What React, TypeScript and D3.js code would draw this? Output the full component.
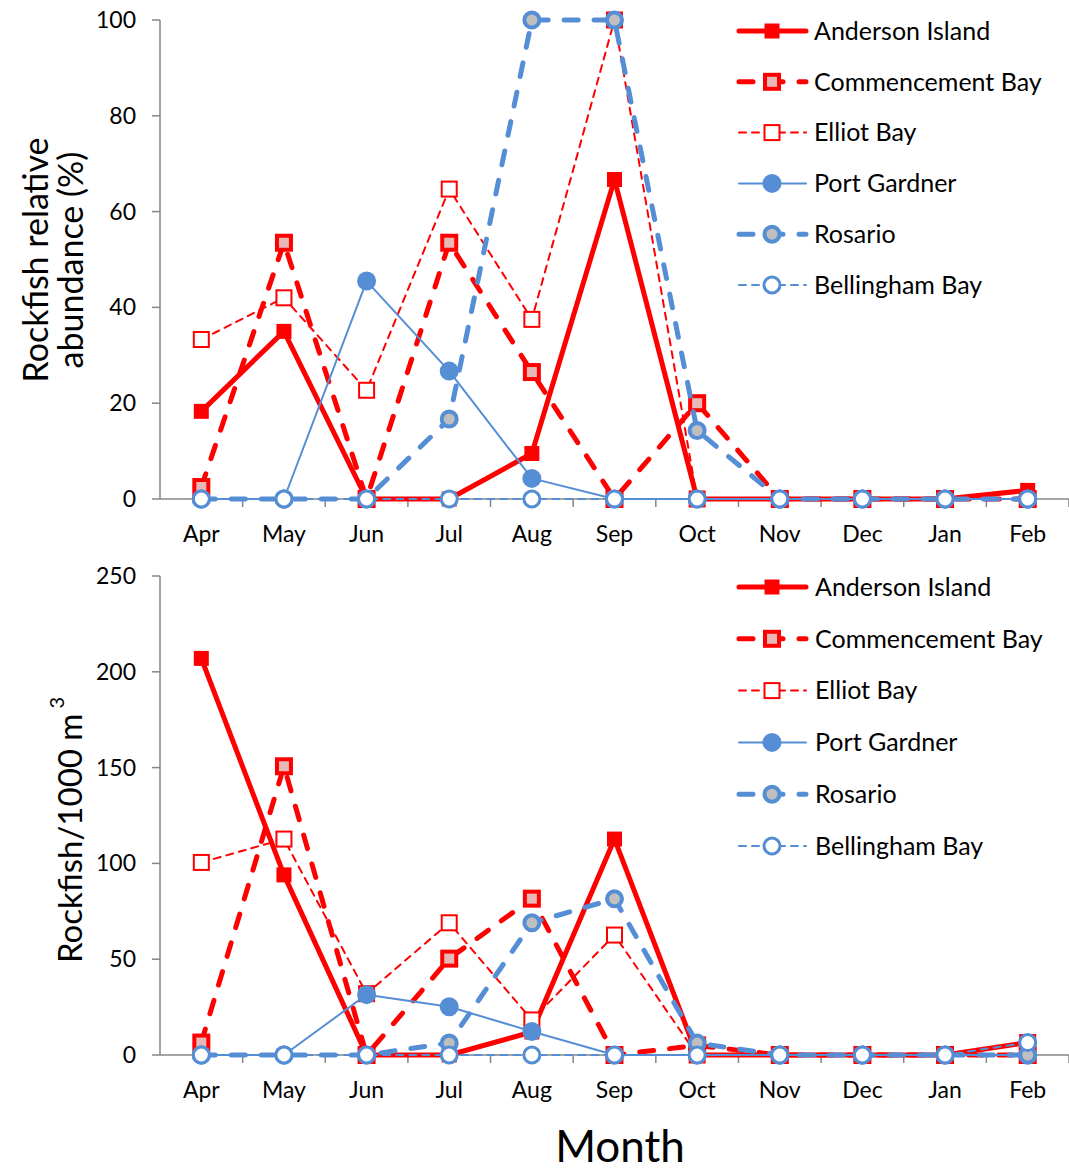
import React from 'react';
import * as d3 from 'd3';

const months = ['Apr', 'May', 'Jun', 'Jul', 'Aug', 'Sep', 'Oct', 'Nov', 'Dec', 'Jan', 'Feb'];
const seriesNames = ['Anderson Island', 'Commencement Bay', 'Elliot Bay', 'Port Gardner', 'Rosario', 'Bellingham Bay'];

// top panel: relative abundance (%)
const andersonPct = [18.3, 35, 0, 0, 9.5, 66.7, 0, 0, 0, 0, 1.8];
const commencementPct = [2.5, 53.5, 0, 53.5, 26.5, 0, 20, 0, 0, 0, 0];
const elliotPct = [33.3, 42, 22.7, 64.7, 37.5, 100, 0, 0, 0, 0, 0];
const portGardnerPct = [0, 0, 45.5, 26.7, 4.3, 0, 0, 0, 0, 0, 0];
const rosarioPct = [0, 0, 0, 16.7, 100, 100, 14.3, 0, 0, 0, 0];
const bellinghamPct = [0, 0, 0, 0, 0, 0, 0, 0, 0, 0, 0];

// bottom panel: rockfish per 1000 m3
const andersonDen = [207, 94, 0, 0, 12, 112.7, 0, 0, 0, 0, 6.5];
const commencementDen = [6.5, 150.7, 0, 50.3, 81.6, 0, 5, 0, 0, 0, 0];
const elliotDen = [100.5, 112.7, 32, 69, 18.3, 62.6, 0, 0, 0, 0, 6.5];
const portGardnerDen = [0, 0, 31.5, 25.2, 12.3, 0, 0, 0, 0, 0, 0];
const rosarioDen = [0, 0, 0, 6.3, 69, 81.5, 6.2, 0, 0, 0, 0];
const bellinghamDen = [0, 0, 0, 0, 0, 0, 0, 0, 0, 0, 6.5];

const pctTicks = [0, 20, 40, 60, 80, 100];
const denTicks = [0, 50, 100, 150, 200, 250];

const RED = '#FF0000';
const BLUE = '#558ED5';
const FONT = 'Lato, "Open Sans", sans-serif';

type Style = {
  color: string;
  width: number;
  dash: string | null;
  marker: 'square' | 'circle';
  size: number;
  fill: string;
  mstroke: number;
};

const styles: Style[] = [
  { color: RED, width: 5, dash: null, marker: 'square', size: 15, fill: RED, mstroke: 0 },
  { color: RED, width: 5, dash: '14,16', marker: 'square', size: 14, fill: '#E6B9B8', mstroke: 4 },
  { color: RED, width: 2, dash: '7,6', marker: 'square', size: 15, fill: '#FFFFFF', mstroke: 2 },
  { color: BLUE, width: 2, dash: null, marker: 'circle', size: 9.5, fill: BLUE, mstroke: 0 },
  { color: BLUE, width: 5, dash: '14,16', marker: 'circle', size: 7.5, fill: '#BFBFBF', mstroke: 4 },
  { color: BLUE, width: 2, dash: '7,6', marker: 'circle', size: 8, fill: '#FFFFFF', mstroke: 3 },
];

const x = d3.scaleBand<string>().domain(months).range([160, 1069]).padding(0);
const cx = (m: string) => (x(m) ?? 0) + x.bandwidth() / 2;

const Marker = ({ s, px, py }: { s: Style; px: number; py: number }) =>
  s.marker === 'square' ? (
    <rect x={px - s.size / 2} y={py - s.size / 2} width={s.size} height={s.size}
      fill={s.fill} stroke={s.mstroke ? s.color : 'none'} strokeWidth={s.mstroke} />
  ) : (
    <circle cx={px} cy={py} r={s.size} fill={s.fill} stroke={s.mstroke ? s.color : 'none'} strokeWidth={s.mstroke} />
  );

const Panel = ({ series, y, ticks, legendTop, legendStep, legendTextX }: {
  series: number[][];
  y: d3.ScaleLinear<number, number>;
  ticks: number[];
  legendTop: number;
  legendStep: number;
  legendTextX: number;
}) => {
  const [y0, y1] = y.range();
  const line = d3.line<number>().x((_, i) => cx(months[i])).y(v => y(v));
  return (
    <g>
      {/* y axis */}
      <line x1={160} x2={160} y1={y1} y2={y0} stroke="#868686" strokeWidth={1.5} />
      {ticks.map(t => (
        <g key={t}>
          <line x1={152} x2={160} y1={y(t)} y2={y(t)} stroke="#868686" strokeWidth={1.5} />
          <text x={136} y={y(t)} dy="0.35em" textAnchor="end" fontSize={23} fontFamily={FONT} fill="#000">{t}</text>
        </g>
      ))}
      {/* x axis */}
      <line x1={160} x2={1069} y1={y0} y2={y0} stroke="#868686" strokeWidth={1.5} />
      {months.map(m => (
        <g key={m}>
          <line x1={(x(m) ?? 0) + x.bandwidth()} x2={(x(m) ?? 0) + x.bandwidth()} y1={y0} y2={y0 + 8} stroke="#868686" strokeWidth={1.5} />
          <text x={cx(m)} y={y0 + 35} dy="0.35em" textAnchor="middle" fontSize={23} fontFamily={FONT} fill="#000">{m}</text>
        </g>
      ))}
      {/* series */}
      {series.map((vals, si) => {
        const s = styles[si];
        return (
          <g key={si}>
            <path d={line(vals) ?? ''} fill="none" stroke={s.color} strokeWidth={s.width}
              strokeDasharray={s.dash ?? undefined} strokeLinecap={s.dash ? 'round' : 'butt'} strokeLinejoin="round" />
            {vals.map((v, i) => <Marker key={i} s={s} px={cx(months[i])} py={y(v)} />)}
          </g>
        );
      })}
      {/* legend */}
      {seriesNames.map((name, i) => {
        const s = styles[i];
        const ly = legendTop + i * legendStep;
        return (
          <g key={name}>
            <line x1={739} x2={806} y1={ly} y2={ly} stroke={s.color} strokeWidth={s.width}
              strokeDasharray={s.dash ?? undefined} strokeLinecap="round" />
            <Marker s={s} px={772} py={ly} />
            <text x={legendTextX} y={ly} dy="0.35em" fontSize={25} fontFamily={FONT} fill="#000">{name}</text>
          </g>
        );
      })}
    </g>
  );
};

export default function App() {
  const yTop = d3.scaleLinear().domain([0, 100]).range([499, 20]);
  const yBot = d3.scaleLinear().domain([0, 250]).range([1055, 576]);
  return (
    <svg width={1069} height={1173} style={{ position: 'absolute', left: 0, top: 0, background: '#fff' }}>
      <rect width={1069} height={1173} fill="#fff" />
      <Panel series={[andersonPct, commencementPct, elliotPct, portGardnerPct, rosarioPct, bellinghamPct]}
        y={yTop} ticks={pctTicks} legendTop={31} legendStep={50.8} legendTextX={814} />
      <Panel series={[andersonDen, commencementDen, elliotDen, portGardnerDen, rosarioDen, bellinghamDen]}
        y={yBot} ticks={denTicks} legendTop={587} legendStep={51.8} legendTextX={815} />
      <text transform="translate(36,260) rotate(-90)" textAnchor="middle" dy="0.35em" fontSize={34} fontFamily={FONT}>Rockfish relative</text>
      <text transform="translate(71,260) rotate(-90)" textAnchor="middle" dy="0.35em" fontSize={34} fontFamily={FONT}>abundance (%)</text>
      <text transform="translate(70,963) rotate(-90)" dy="0.35em" fontSize={33} fontFamily={FONT}>
        Rockfish/1000 m<tspan fontSize={20} dy="-0.9em" dx="5">3</tspan>
      </text>
      <text x={620} y={1162} textAnchor="middle" fontSize={44} fontFamily={FONT}>Month</text>
    </svg>
  );
}
